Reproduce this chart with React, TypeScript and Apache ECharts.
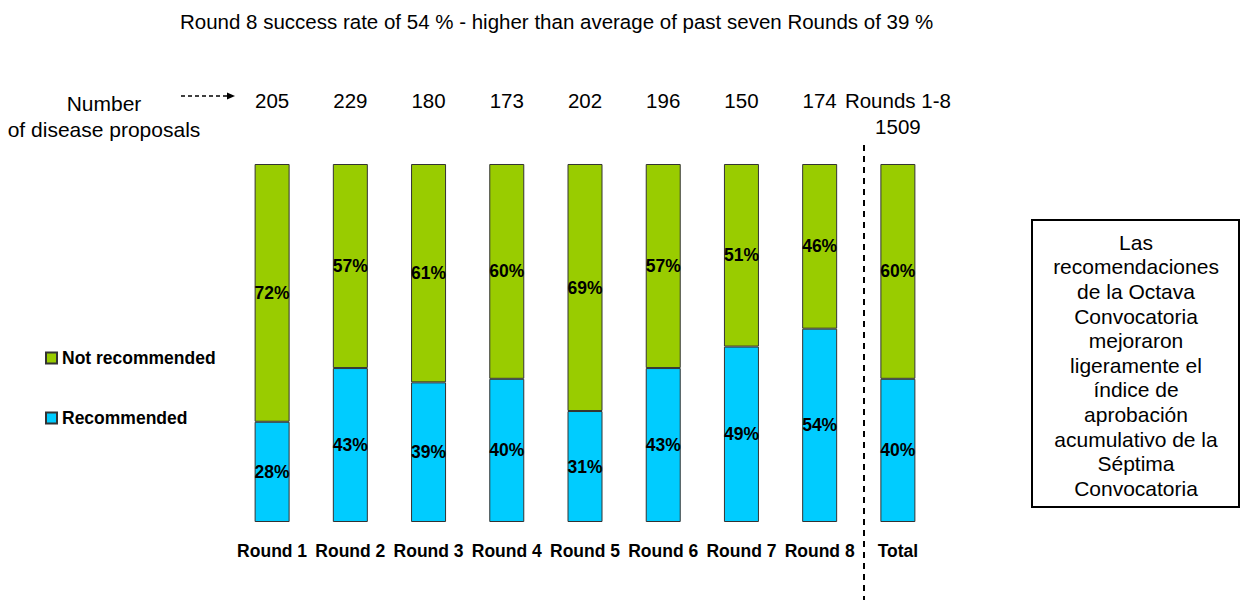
import React, { useEffect, useRef } from "react";
import * as echarts from "echarts";

const categories = ["Round 1", "Round 2", "Round 3", "Round 4", "Round 5", "Round 6", "Round 7", "Round 8", "Total"];
const proposals = ["205", "229", "180", "173", "202", "196", "150", "174", "Rounds 1-8\n1509"];
const recommended = [28, 43, 39, 40, 31, 43, 49, 54, 40];
const notRecommended = [72, 57, 61, 60, 69, 57, 51, 46, 60];
const titleText = "Round 8 success rate of 54 % - higher than average of past seven Rounds of 39 %";
const noteLines = [
  "Las",
  "recomendaciones",
  "de la Octava",
  "Convocatoria",
  "mejoraron",
  "ligeramente el",
  "índice de",
  "aprobación",
  "acumulativo de la",
  "Séptima",
  "Convocatoria",
];

const FONT = "'Liberation Sans', Arial, sans-serif";

export default function App() {
  const ref = useRef<HTMLDivElement>(null);
  useEffect(() => {
    if (!ref.current) return;
    const chart = echarts.init(ref.current, undefined, { renderer: "svg" });
    const labelStyle = {
      show: true,
      position: "inside",
      color: "#000",
      fontWeight: "bold",
      fontSize: 17.5,
      fontFamily: FONT,
      formatter: (p: any) => p.value + "%",
    };
    chart.setOption({
      animation: false,
      backgroundColor: "#fff",
      textStyle: { fontFamily: FONT },
      grid: { left: 233, width: 704, top: 164, bottom: 78 },
      legend: {
        orient: "vertical",
        left: 45,
        top: 349,
        padding: 0,
        icon: "rect",
        itemWidth: 11,
        itemHeight: 11,
        itemGap: 42,
        data: ["Not recommended", "Recommended"],
        textStyle: { fontSize: 17.5, fontWeight: "bold", color: "#000", fontFamily: FONT },
      },
      xAxis: [
        {
          type: "category",
          data: categories,
          position: "bottom",
          axisLine: { show: false },
          axisTick: { show: false },
          axisLabel: {
            margin: 20,
            color: "#000",
            fontWeight: "bold",
            fontSize: 17.5,
            fontFamily: FONT,
            interval: 0,
          },
        },
        {
          type: "category",
          data: proposals,
          position: "top",
          axisLine: { show: false },
          axisTick: { show: false },
          axisLabel: {
            margin: 77,
            verticalAlign: "top",
            color: "#000",
            fontSize: 20.5,
            lineHeight: 26,
            fontFamily: FONT,
            interval: 0,
          },
        },
      ],
      yAxis: { type: "value", min: 0, max: 100, show: false },
      series: [
        {
          name: "Recommended",
          type: "bar",
          stack: "s",
          barWidth: 35,
          data: recommended,
          itemStyle: { color: "#00CCFF", borderColor: "#333", borderWidth: 1 },
          label: labelStyle,
        },
        {
          name: "Not recommended",
          type: "bar",
          stack: "s",
          barWidth: 35,
          data: notRecommended,
          itemStyle: { color: "#99CC00", borderColor: "#333", borderWidth: 1 },
          label: labelStyle,
        },
      ],
      graphic: [
        {
          type: "text",
          left: 180,
          top: 11,
          style: { text: titleText, fontSize: 20.5, fill: "#000", fontFamily: FONT },
        },
        {
          type: "text",
          x: 104,
          y: 90,
          style: {
            text: "Number\nof disease proposals",
            fontSize: 21,
            lineHeight: 26,
            fill: "#000",
            fontFamily: FONT,
            align: "center",
            verticalAlign: "top",
          },
        },
        {
          type: "line",
          shape: { x1: 181, y1: 96, x2: 228, y2: 96 },
          style: { stroke: "#000", lineWidth: 1.5, lineDash: [4, 3] },
        },
        {
          type: "polygon",
          shape: { points: [[227, 92.5], [235, 96], [227, 99.5]] },
          style: { fill: "#000" },
        },
        {
          type: "line",
          shape: { x1: 864, y1: 145, x2: 864, y2: 600 },
          style: { stroke: "#000", lineWidth: 2, lineDash: [6, 5] },
        },
        {
          type: "rect",
          shape: { x: 1032, y: 220, width: 207, height: 287 },
          style: { fill: "#fff", stroke: "#000", lineWidth: 2 },
        },
        {
          type: "text",
          x: 1136,
          y: 230,
          style: {
            text: noteLines.join("\n"),
            fontSize: 21,
            lineHeight: 24.6,
            fill: "#000",
            fontFamily: FONT,
            align: "center",
            verticalAlign: "top",
          },
        },
      ],
    });
    return () => chart.dispose();
  }, []);
  return (
    <div
      ref={ref}
      style={{ position: "absolute", left: 0, top: 0, width: 1241, height: 600 }}
    />
  );
}
